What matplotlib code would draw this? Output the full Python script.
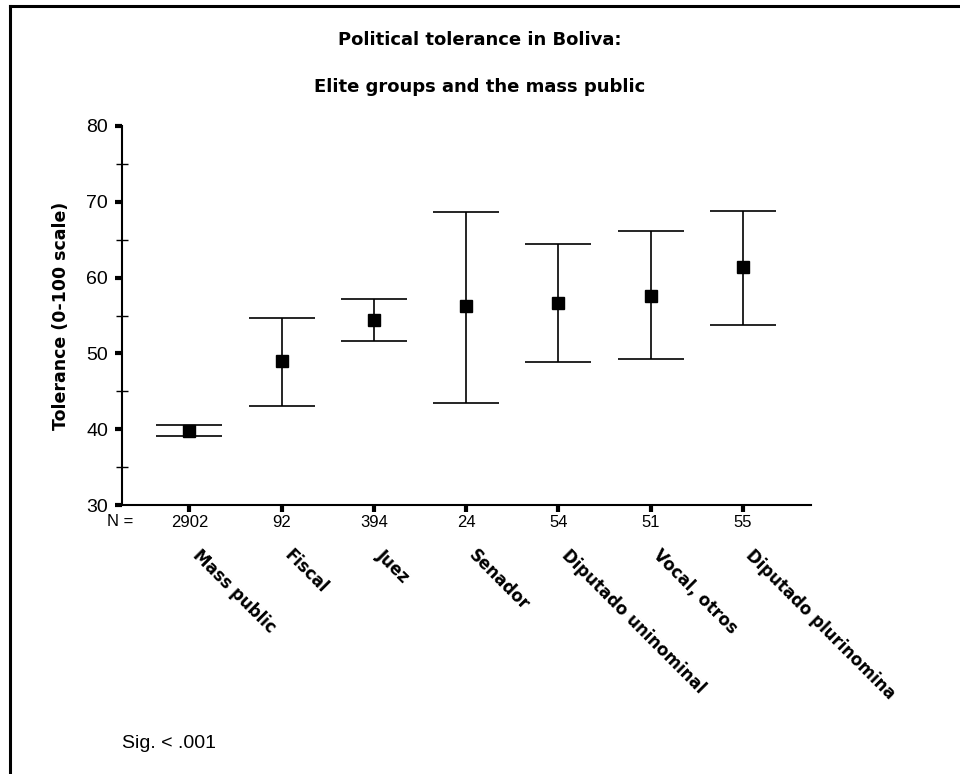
import matplotlib
matplotlib.use("Agg")
import matplotlib.pyplot as plt
from matplotlib.ticker import MultipleLocator
from matplotlib.lines import Line2D
import numpy as np

plt.rcParams['font.family'] = ['Liberation Sans', 'DejaVu Sans']
BOLD = ['DejaVu Sans']

categories = ["Mass public", "Fiscal", "Juez", "Senador", "Diputado uninominal",
              "Vocal, otros", "Diputado plurinomina"]
n_labels = ["2902", "92", "394", "24", "54", "51", "55"]
means = [39.8, 49.0, 54.4, 56.2, 56.6, 57.6, 61.4]
upper = [40.6, 54.7, 57.2, 68.6, 64.4, 66.1, 68.8]
lower = [39.1, 43.1, 51.7, 43.5, 48.8, 49.2, 53.8]

fig = plt.figure(figsize=(9.6, 7.74), dpi=100)
ax = fig.add_axes([122/960, 1-505/774, (811-122)/960, (505-126)/774])

x = np.arange(len(categories))
m = np.array(means)
yerr = np.vstack([m - np.array(lower), np.array(upper) - m])
ax.errorbar(x, m, yerr=yerr, fmt='s', color='black', ms=8.2, elinewidth=1.2,
            capsize=23.8, capthick=1.2, zorder=3)

ax.set_xlim(-0.73, 6.74)
ax.set_ylim(30, 80)
ax.spines['top'].set_visible(False)
ax.spines['right'].set_visible(False)
ax.spines['left'].set_linewidth(1.5)
ax.spines['bottom'].set_linewidth(1.5)

ax.yaxis.set_major_locator(MultipleLocator(10))
ax.yaxis.set_minor_locator(MultipleLocator(5))
ax.tick_params(axis='y', which='major', direction='out', length=5, width=3,
               labelsize=14, pad=5)
ax.tick_params(axis='y', which='minor', direction='inout', length=8, width=1)
ax.set_xticks(x)
ax.set_xticklabels(n_labels)
ax.tick_params(axis='x', which='major', direction='out', length=5, width=3,
               labelsize=12, pad=2)

ax.annotate("N =", xy=(120/960, 1-522/774), xycoords='figure fraction',
            ha='center', va='center', fontsize=12)

for i, c in enumerate(categories):
    ax.annotate(c, xy=(i, 0), xycoords=('data', 'axes fraction'),
                xytext=(12, -41), textcoords='offset pixels',
                rotation=-45, rotation_mode='anchor', ha='left', va='top',
                fontsize=12, fontweight='bold', family=BOLD)

ax.set_ylabel("Tolerance (0-100 scale)", fontsize=12.5, fontweight='bold',
              family=BOLD, labelpad=12)

fig.text(0.5, 1-40/774, "Political tolerance in Boliva:", ha='center', va='center',
         fontsize=13, fontweight='bold', family=BOLD)
fig.text(0.5, 1-87/774, "Elite groups and the mass public", ha='center', va='center',
         fontsize=13, fontweight='bold', family=BOLD)
fig.text(122/960, 1-744/774, "Sig. < .001", ha='left', va='center', fontsize=14)

fig.add_artist(Line2D([10/960, 10/960], [0, 1-6/774], transform=fig.transFigure,
                      color='black', lw=2.2))
fig.add_artist(Line2D([10/960, 1], [1-6/774, 1-6/774], transform=fig.transFigure,
                      color='black', lw=2.2))

fig.savefig("out.png", dpi=100)
